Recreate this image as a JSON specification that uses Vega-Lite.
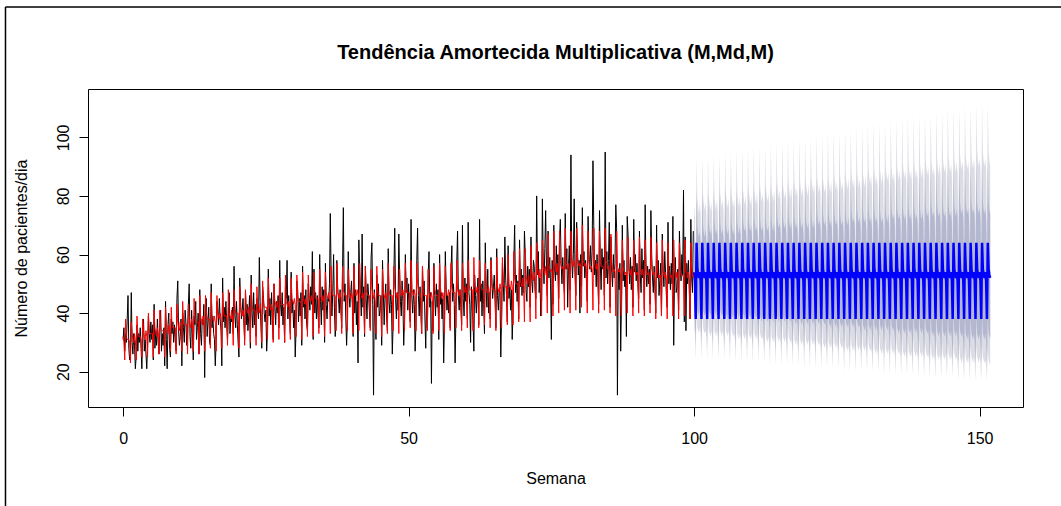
{
"$schema":"https://vega.github.io/schema/vega-lite/v6.json",
"width":935,"height":318,
"autosize":{"type":"none"},
"padding":{"left":88,"top":89,"right":38,"bottom":99},
"background":"white",
"title":{"text":"Tendência Amortecida Multiplicativa (M,Md,M)","anchor":"middle","frame":"group","font":"Liberation Sans","fontSize":20,"fontWeight":"bold","color":"black","baseline":"alphabetic","offset":-72.5},
"config":{"view":{"stroke":"black","strokeWidth":1}},
"datasets":{
"obs":[
{"d":0,"y":31,"f":32},{"d":1,"y":35,"f":30},{"d":2,"y":27,"f":24},{"d":3,"y":33,"f":38},{"d":4,"y":30,"f":32},{"d":5,"y":38,"f":31},{"d":6,"y":46,"f":31},
{"d":7,"y":28,"f":31},{"d":8,"y":24,"f":30},{"d":9,"y":25,"f":23},{"d":10,"y":47,"f":37},{"d":11,"y":30,"f":33},{"d":12,"y":26,"f":31},{"d":13,"y":33,"f":30},
{"d":14,"y":29,"f":33},{"d":15,"y":21,"f":31},{"d":16,"y":25,"f":24},{"d":17,"y":36,"f":39},{"d":18,"y":27,"f":33},{"d":19,"y":33,"f":32},{"d":20,"y":30,"f":32},
{"d":21,"y":35,"f":32},{"d":22,"y":28,"f":31},{"d":23,"y":21,"f":25},{"d":24,"y":34,"f":38},{"d":25,"y":38,"f":34},{"d":26,"y":27,"f":32},{"d":27,"y":31,"f":31},
{"d":28,"y":26,"f":34},{"d":29,"y":21,"f":32},{"d":30,"y":29,"f":25},{"d":31,"y":39,"f":40},{"d":32,"y":33,"f":34},{"d":33,"y":30,"f":33},{"d":34,"y":37,"f":33},
{"d":35,"y":31,"f":33},{"d":36,"y":36,"f":33},{"d":37,"y":24,"f":25},{"d":38,"y":43,"f":41},{"d":39,"y":28,"f":35},{"d":40,"y":34,"f":33},{"d":41,"y":29,"f":32},
{"d":42,"y":38,"f":35},{"d":43,"y":30,"f":33},{"d":44,"y":26,"f":26},{"d":45,"y":35,"f":41},{"d":46,"y":41,"f":35},{"d":47,"y":27,"f":34},{"d":48,"y":33,"f":34},
{"d":49,"y":29,"f":34},{"d":50,"y":35,"f":34},{"d":51,"y":22,"f":25},{"d":52,"y":44,"f":42},{"d":53,"y":31,"f":36},{"d":54,"y":21,"f":34},{"d":55,"y":36,"f":33},
{"d":56,"y":40,"f":36},{"d":57,"y":28,"f":34},{"d":58,"y":25,"f":27},{"d":59,"y":38,"f":42},{"d":60,"y":33,"f":36},{"d":61,"y":37,"f":35},{"d":62,"y":30,"f":35},
{"d":63,"y":36,"f":35},{"d":64,"y":31,"f":35},{"d":65,"y":27,"f":26},{"d":66,"y":45,"f":43},{"d":67,"y":51,"f":37},{"d":68,"y":34,"f":35},{"d":69,"y":29,"f":34},
{"d":70,"y":32,"f":37},{"d":71,"y":38,"f":35},{"d":72,"y":22,"f":27},{"d":73,"y":40,"f":44},{"d":74,"y":35,"f":37},{"d":75,"y":30,"f":36},{"d":76,"y":41,"f":36},
{"d":77,"y":37,"f":36},{"d":78,"y":29,"f":36},{"d":79,"y":33,"f":26},{"d":80,"y":43,"f":43},{"d":81,"y":50,"f":38},{"d":82,"y":32,"f":36},{"d":83,"y":28,"f":35},
{"d":84,"y":41,"f":38},{"d":85,"y":33,"f":36},{"d":86,"y":24,"f":27},{"d":87,"y":39,"f":45},{"d":88,"y":36,"f":38},{"d":89,"y":44,"f":37},{"d":90,"y":31,"f":37},
{"d":91,"y":35,"f":37},{"d":92,"y":40,"f":37},{"d":93,"y":26,"f":26},{"d":94,"y":48,"f":46},{"d":95,"y":33,"f":39},{"d":96,"y":29,"f":37},{"d":97,"y":38,"f":36},
{"d":98,"y":36,"f":39},{"d":99,"y":43,"f":37},{"d":100,"y":18,"f":27},{"d":101,"y":41,"f":46},{"d":102,"y":45,"f":40},{"d":103,"y":32,"f":38},{"d":104,"y":37,"f":38},
{"d":105,"y":42,"f":38},{"d":106,"y":30,"f":38},{"d":107,"y":29,"f":28},{"d":108,"y":50,"f":47},{"d":109,"y":35,"f":39},{"d":110,"y":39,"f":38},{"d":111,"y":33,"f":37},
{"d":112,"y":31,"f":39},{"d":113,"y":22,"f":37},{"d":114,"y":30,"f":27},{"d":115,"y":44,"f":46},{"d":116,"y":41,"f":40},{"d":117,"y":36,"f":39},{"d":118,"y":45,"f":38},
{"d":119,"y":38,"f":40},{"d":120,"y":34,"f":38},{"d":121,"y":22,"f":28},{"d":122,"y":52,"f":47},{"d":123,"y":37,"f":41},{"d":124,"y":42,"f":39},{"d":125,"y":35,"f":39},
{"d":126,"y":44,"f":39},{"d":127,"y":36,"f":39},{"d":128,"y":31,"f":29},{"d":129,"y":40,"f":48},{"d":130,"y":47,"f":40},{"d":131,"y":33,"f":39},{"d":132,"y":38,"f":38},
{"d":133,"y":37,"f":41},{"d":134,"y":42,"f":39},{"d":135,"y":33,"f":29},{"d":136,"y":56,"f":48},{"d":137,"y":39,"f":42},{"d":138,"y":35,"f":40},{"d":139,"y":44,"f":40},
{"d":140,"y":36,"f":40},{"d":141,"y":30,"f":40},{"d":142,"y":25,"f":28},{"d":143,"y":52,"f":49},{"d":144,"y":44,"f":41},{"d":145,"y":38,"f":40},{"d":146,"y":41,"f":39},
{"d":147,"y":45,"f":41},{"d":148,"y":37,"f":39},{"d":149,"y":31,"f":29},{"d":150,"y":47,"f":48},{"d":151,"y":36,"f":42},{"d":152,"y":43,"f":41},{"d":153,"y":34,"f":40},
{"d":154,"y":39,"f":42},{"d":155,"y":46,"f":40},{"d":156,"y":28,"f":30},{"d":157,"y":53,"f":50},{"d":158,"y":40,"f":43},{"d":159,"y":35,"f":41},{"d":160,"y":47,"f":41},
{"d":161,"y":36,"f":41},{"d":162,"y":43,"f":41},{"d":163,"y":32,"f":29},{"d":164,"y":45,"f":49},{"d":165,"y":41,"f":42},{"d":166,"y":38,"f":41},{"d":167,"y":59,"f":40},
{"d":168,"y":44,"f":43},{"d":169,"y":35,"f":41},{"d":170,"y":28,"f":30},{"d":171,"y":49,"f":51},{"d":172,"y":46,"f":44},{"d":173,"y":40,"f":42},{"d":174,"y":37,"f":42},
{"d":175,"y":41,"f":42},{"d":176,"y":27,"f":42},{"d":177,"y":34,"f":31},{"d":178,"y":55,"f":52},{"d":179,"y":39,"f":43},{"d":180,"y":45,"f":42},{"d":181,"y":36,"f":41},
{"d":182,"y":47,"f":43},{"d":183,"y":38,"f":41},{"d":184,"y":31,"f":30},{"d":185,"y":50,"f":50},{"d":186,"y":42,"f":44},{"d":187,"y":36,"f":43},{"d":188,"y":44,"f":42},
{"d":189,"y":40,"f":44},{"d":190,"y":46,"f":42},{"d":191,"y":35,"f":31},{"d":192,"y":58,"f":52},{"d":193,"y":43,"f":45},{"d":194,"y":39,"f":43},{"d":195,"y":47,"f":43},
{"d":196,"y":36,"f":43},{"d":197,"y":42,"f":43},{"d":198,"y":30,"f":30},{"d":199,"y":49,"f":53},{"d":200,"y":45,"f":44},{"d":201,"y":58,"f":43},{"d":202,"y":38,"f":42},
{"d":203,"y":46,"f":44},{"d":204,"y":39,"f":42},{"d":205,"y":33,"f":31},{"d":206,"y":54,"f":52},{"d":207,"y":40,"f":45},{"d":208,"y":44,"f":44},{"d":209,"y":35,"f":43},
{"d":210,"y":41,"f":45},{"d":211,"y":25,"f":43},{"d":212,"y":34,"f":32},{"d":213,"y":51,"f":53},{"d":214,"y":48,"f":46},{"d":215,"y":37,"f":44},{"d":216,"y":45,"f":44},
{"d":217,"y":39,"f":44},{"d":218,"y":47,"f":44},{"d":219,"y":29,"f":31},{"d":220,"y":56,"f":54},{"d":221,"y":42,"f":45},{"d":222,"y":46,"f":44},{"d":223,"y":38,"f":43},
{"d":224,"y":48,"f":45},{"d":225,"y":36,"f":43},{"d":226,"y":34,"f":32},{"d":227,"y":50,"f":53},{"d":228,"y":45,"f":46},{"d":229,"y":41,"f":45},{"d":230,"y":49,"f":44},
{"d":231,"y":43,"f":46},{"d":232,"y":61,"f":44},{"d":233,"y":31,"f":32},{"d":234,"y":55,"f":54},{"d":235,"y":40,"f":47},{"d":236,"y":47,"f":45},{"d":237,"y":38,"f":45},
{"d":238,"y":46,"f":45},{"d":239,"y":39,"f":45},{"d":240,"y":35,"f":33},{"d":241,"y":60,"f":55},{"d":242,"y":44,"f":46},{"d":243,"y":36,"f":45},{"d":244,"y":49,"f":44},
{"d":245,"y":41,"f":46},{"d":246,"y":48,"f":44},{"d":247,"y":30,"f":32},{"d":248,"y":57,"f":54},{"d":249,"y":43,"f":47},{"d":250,"y":38,"f":46},{"d":251,"y":45,"f":45},
{"d":252,"y":44,"f":47},{"d":253,"y":50,"f":45},{"d":254,"y":74,"f":33},{"d":255,"y":53,"f":56},{"d":256,"y":39,"f":48},{"d":257,"y":47,"f":46},{"d":258,"y":60,"f":46},
{"d":259,"y":42,"f":46},{"d":260,"y":32,"f":46},{"d":261,"y":36,"f":34},{"d":262,"y":58,"f":57},{"d":263,"y":49,"f":47},{"d":264,"y":45,"f":46},{"d":265,"y":40,"f":45},
{"d":266,"y":48,"f":47},{"d":267,"y":41,"f":45},{"d":268,"y":35,"f":33},{"d":269,"y":55,"f":56},{"d":270,"y":76,"f":48},{"d":271,"y":44,"f":47},{"d":272,"y":50,"f":46},
{"d":273,"y":38,"f":46},{"d":274,"y":29,"f":46},{"d":275,"y":39,"f":34},{"d":276,"y":61,"f":55},{"d":277,"y":46,"f":49},{"d":278,"y":42,"f":46},{"d":279,"y":47,"f":45},
{"d":280,"y":51,"f":47},{"d":281,"y":43,"f":45},{"d":282,"y":32,"f":33},{"d":283,"y":57,"f":56},{"d":284,"y":40,"f":48},{"d":285,"y":48,"f":46},{"d":286,"y":36,"f":46},
{"d":287,"y":44,"f":48},{"d":288,"y":23,"f":46},{"d":289,"y":65,"f":34},{"d":290,"y":54,"f":57},{"d":291,"y":47,"f":47},{"d":292,"y":39,"f":46},{"d":293,"y":67,"f":45},
{"d":294,"y":42,"f":47},{"d":295,"y":49,"f":45},{"d":296,"y":32,"f":33},{"d":297,"y":56,"f":56},{"d":298,"y":45,"f":48},{"d":299,"y":38,"f":47},{"d":300,"y":50,"f":46},
{"d":301,"y":46,"f":46},{"d":302,"y":40,"f":46},{"d":303,"y":35,"f":34},{"d":304,"y":59,"f":55},{"d":305,"y":64,"f":49},{"d":306,"y":43,"f":46},{"d":307,"y":12,"f":45},
{"d":308,"y":48,"f":47},{"d":309,"y":37,"f":44},{"d":310,"y":31,"f":33},{"d":311,"y":53,"f":56},{"d":312,"y":42,"f":48},{"d":313,"y":50,"f":46},{"d":314,"y":39,"f":46},
{"d":315,"y":41,"f":46},{"d":316,"y":46,"f":45},{"d":317,"y":29,"f":32},{"d":318,"y":58,"f":55},{"d":319,"y":47,"f":47},{"d":320,"y":36,"f":46},{"d":321,"y":45,"f":45},
{"d":322,"y":50,"f":47},{"d":323,"y":39,"f":45},{"d":324,"y":34,"f":33},{"d":325,"y":62,"f":57},{"d":326,"y":44,"f":48},{"d":327,"y":40,"f":46},{"d":328,"y":48,"f":46},
{"d":329,"y":43,"f":46},{"d":330,"y":26,"f":46},{"d":331,"y":36,"f":34},{"d":332,"y":55,"f":56},{"d":333,"y":69,"f":49},{"d":334,"y":45,"f":47},{"d":335,"y":38,"f":45},
{"d":336,"y":47,"f":47},{"d":337,"y":41,"f":45},{"d":338,"y":67,"f":33},{"d":339,"y":52,"f":55},{"d":340,"y":44,"f":48},{"d":341,"y":39,"f":46},{"d":342,"y":51,"f":46},
{"d":343,"y":44,"f":48},{"d":344,"y":29,"f":46},{"d":345,"y":38,"f":34},{"d":346,"y":60,"f":57},{"d":347,"y":47,"f":49},{"d":348,"y":52,"f":47},{"d":349,"y":41,"f":47},
{"d":350,"y":50,"f":47},{"d":351,"y":42,"f":47},{"d":352,"y":37,"f":35},{"d":353,"y":72,"f":58},{"d":354,"y":45,"f":48},{"d":355,"y":40,"f":47},{"d":356,"y":48,"f":46},
{"d":357,"y":43,"f":48},{"d":358,"y":27,"f":46},{"d":359,"y":36,"f":34},{"d":360,"y":58,"f":57},{"d":361,"y":69,"f":50},{"d":362,"y":46,"f":48},{"d":363,"y":39,"f":47},
{"d":364,"y":49,"f":47},{"d":365,"y":40,"f":45},{"d":366,"y":33,"f":33},{"d":367,"y":56,"f":56},{"d":368,"y":44,"f":48},{"d":369,"y":51,"f":46},{"d":370,"y":38,"f":46},
{"d":371,"y":28,"f":46},{"d":372,"y":45,"f":46},{"d":373,"y":35,"f":34},{"d":374,"y":53,"f":55},{"d":375,"y":61,"f":47},{"d":376,"y":42,"f":46},{"d":377,"y":47,"f":45},
{"d":378,"y":16,"f":47},{"d":379,"y":44,"f":45},{"d":380,"y":34,"f":33},{"d":381,"y":57,"f":56},{"d":382,"y":46,"f":48},{"d":383,"y":39,"f":47},{"d":384,"y":50,"f":46},
{"d":385,"y":42,"f":46},{"d":386,"y":48,"f":46},{"d":387,"y":31,"f":34},{"d":388,"y":60,"f":57},{"d":389,"y":43,"f":49},{"d":390,"y":47,"f":46},{"d":391,"y":38,"f":45},
{"d":392,"y":45,"f":47},{"d":393,"y":23,"f":45},{"d":394,"y":37,"f":33},{"d":395,"y":61,"f":56},{"d":396,"y":49,"f":48},{"d":397,"y":41,"f":46},{"d":398,"y":46,"f":46},
{"d":399,"y":40,"f":48},{"d":400,"y":47,"f":46},{"d":401,"y":35,"f":34},{"d":402,"y":55,"f":57},{"d":403,"y":63,"f":49},{"d":404,"y":44,"f":47},{"d":405,"y":50,"f":47},
{"d":406,"y":43,"f":47},{"d":407,"y":23,"f":47},{"d":408,"y":39,"f":35},{"d":409,"y":57,"f":58},{"d":410,"y":68,"f":48},{"d":411,"y":46,"f":47},{"d":412,"y":41,"f":46},
{"d":413,"y":48,"f":48},{"d":414,"y":42,"f":46},{"d":415,"y":36,"f":34},{"d":416,"y":70,"f":57},{"d":417,"y":45,"f":50},{"d":418,"y":39,"f":48},{"d":419,"y":52,"f":47},
{"d":420,"y":44,"f":49},{"d":421,"y":50,"f":47},{"d":422,"y":38,"f":35},{"d":423,"y":71,"f":58},{"d":424,"y":47,"f":50},{"d":425,"y":43,"f":48},{"d":426,"y":30,"f":48},
{"d":427,"y":49,"f":48},{"d":428,"y":41,"f":48},{"d":429,"y":37,"f":34},{"d":430,"y":27,"f":59},{"d":431,"y":53,"f":49},{"d":432,"y":46,"f":48},{"d":433,"y":40,"f":47},
{"d":434,"y":46,"f":49},{"d":435,"y":52,"f":47},{"d":436,"y":36,"f":35},{"d":437,"y":72,"f":58},{"d":438,"y":44,"f":50},{"d":439,"y":50,"f":49},{"d":440,"y":39,"f":48},
{"d":441,"y":51,"f":48},{"d":442,"y":43,"f":48},{"d":443,"y":33,"f":36},{"d":444,"y":64,"f":57},{"d":445,"y":48,"f":51},{"d":446,"y":42,"f":48},{"d":447,"y":55,"f":47},
{"d":448,"y":40,"f":49},{"d":449,"y":47,"f":47},{"d":450,"y":38,"f":35},{"d":451,"y":59,"f":58},{"d":452,"y":52,"f":50},{"d":453,"y":45,"f":48},{"d":454,"y":49,"f":48},
{"d":455,"y":53,"f":48},{"d":456,"y":44,"f":48},{"d":457,"y":35,"f":34},{"d":458,"y":62,"f":59},{"d":459,"y":46,"f":49},{"d":460,"y":41,"f":48},{"d":461,"y":48,"f":47},
{"d":462,"y":47,"f":50},{"d":463,"y":25,"f":48},{"d":464,"y":39,"f":35},{"d":465,"y":57,"f":59},{"d":466,"y":50,"f":51},{"d":467,"y":44,"f":49},{"d":468,"y":66,"f":49},
{"d":469,"y":52,"f":49},{"d":470,"y":46,"f":49},{"d":471,"y":37,"f":36},{"d":472,"y":63,"f":60},{"d":473,"y":45,"f":50},{"d":474,"y":49,"f":49},{"d":475,"y":41,"f":48},
{"d":476,"y":48,"f":51},{"d":477,"y":31,"f":49},{"d":478,"y":40,"f":36},{"d":479,"y":58,"f":61},{"d":480,"y":70,"f":52},{"d":481,"y":47,"f":50},{"d":482,"y":53,"f":50},
{"d":483,"y":44,"f":50},{"d":484,"y":51,"f":50},{"d":485,"y":38,"f":37},{"d":486,"y":65,"f":62},{"d":487,"y":49,"f":51},{"d":488,"y":55,"f":50},{"d":489,"y":46,"f":49},
{"d":490,"y":53,"f":52},{"d":491,"y":47,"f":49},{"d":492,"y":68,"f":37},{"d":493,"y":60,"f":62},{"d":494,"y":48,"f":53},{"d":495,"y":44,"f":51},{"d":496,"y":56,"f":50},
{"d":497,"y":49,"f":53},{"d":498,"y":55,"f":50},{"d":499,"y":42,"f":37},{"d":500,"y":66,"f":63},{"d":501,"y":51,"f":54},{"d":502,"y":47,"f":52},{"d":503,"y":58,"f":51},
{"d":504,"y":56,"f":54},{"d":505,"y":48,"f":51},{"d":506,"y":45,"f":38},{"d":507,"y":80,"f":64},{"d":508,"y":53,"f":55},{"d":509,"y":61,"f":53},{"d":510,"y":47,"f":52},
{"d":511,"y":52,"f":55},{"d":512,"y":39,"f":52},{"d":513,"y":44,"f":39},{"d":514,"y":79,"f":65},{"d":515,"y":58,"f":56},{"d":516,"y":50,"f":54},{"d":517,"y":62,"f":53},
{"d":518,"y":75,"f":56},{"d":519,"y":56,"f":53},{"d":520,"y":46,"f":40},{"d":521,"y":68,"f":67},{"d":522,"y":52,"f":57},{"d":523,"y":59,"f":55},{"d":524,"y":50,"f":54},
{"d":525,"y":31,"f":55},{"d":526,"y":58,"f":54},{"d":527,"y":43,"f":39},{"d":528,"y":70,"f":68},{"d":529,"y":55,"f":56},{"d":530,"y":51,"f":55},{"d":531,"y":63,"f":54},
{"d":532,"y":53,"f":57},{"d":533,"y":60,"f":54},{"d":534,"y":45,"f":40},{"d":535,"y":65,"f":68},{"d":536,"y":72,"f":58},{"d":537,"y":57,"f":56},{"d":538,"y":50,"f":55},
{"d":539,"y":59,"f":56},{"d":540,"y":51,"f":55},{"d":541,"y":47,"f":41},{"d":542,"y":74,"f":69},{"d":543,"y":55,"f":57},{"d":544,"y":62,"f":56},{"d":545,"y":42,"f":55},
{"d":546,"y":56,"f":57},{"d":547,"y":63,"f":54},{"d":548,"y":48,"f":40},{"d":549,"y":94,"f":68},{"d":550,"y":58,"f":59},{"d":551,"y":52,"f":57},{"d":552,"y":60,"f":56},
{"d":553,"y":79,"f":58},{"d":554,"y":54,"f":55},{"d":555,"y":46,"f":41},{"d":556,"y":71,"f":69},{"d":557,"y":62,"f":59},{"d":558,"y":53,"f":57},{"d":559,"y":58,"f":56},
{"d":560,"y":40,"f":57},{"d":561,"y":60,"f":56},{"d":562,"y":49,"f":42},{"d":563,"y":76,"f":70},{"d":564,"y":56,"f":58},{"d":565,"y":61,"f":57},{"d":566,"y":52,"f":56},
{"d":567,"y":58,"f":57},{"d":568,"y":51,"f":54},{"d":569,"y":44,"f":40},{"d":570,"y":73,"f":68},{"d":571,"y":60,"f":58},{"d":572,"y":55,"f":56},{"d":573,"y":63,"f":55},
{"d":574,"y":54,"f":56},{"d":575,"y":61,"f":55},{"d":576,"y":92,"f":41},{"d":577,"y":70,"f":69},{"d":578,"y":53,"f":57},{"d":579,"y":58,"f":56},{"d":580,"y":49,"f":55},
{"d":581,"y":60,"f":57},{"d":582,"y":52,"f":54},{"d":583,"y":43,"f":40},{"d":584,"y":75,"f":68},{"d":585,"y":57,"f":59},{"d":586,"y":48,"f":56},{"d":587,"y":62,"f":56},
{"d":588,"y":55,"f":56},{"d":589,"y":59,"f":55},{"d":590,"y":46,"f":41},{"d":591,"y":95,"f":69},{"d":592,"y":52,"f":58},{"d":593,"y":61,"f":57},{"d":594,"y":50,"f":55},
{"d":595,"y":58,"f":56},{"d":596,"y":71,"f":53},{"d":597,"y":42,"f":40},{"d":598,"y":66,"f":67},{"d":599,"y":54,"f":57},{"d":600,"y":49,"f":55},{"d":601,"y":60,"f":54},
{"d":602,"y":52,"f":55},{"d":603,"y":57,"f":54},{"d":604,"y":77,"f":39},{"d":605,"y":69,"f":68},{"d":606,"y":12,"f":56},{"d":607,"y":55,"f":55},{"d":608,"y":48,"f":54},
{"d":609,"y":57,"f":55},{"d":610,"y":27,"f":52},{"d":611,"y":44,"f":39},{"d":612,"y":70,"f":65},{"d":613,"y":51,"f":56},{"d":614,"y":58,"f":54},{"d":615,"y":49,"f":53},
{"d":616,"y":53,"f":54},{"d":617,"y":32,"f":53},{"d":618,"y":73,"f":40},{"d":619,"y":67,"f":66},{"d":620,"y":56,"f":55},{"d":621,"y":50,"f":54},{"d":622,"y":59,"f":53},
{"d":623,"y":48,"f":55},{"d":624,"y":56,"f":52},{"d":625,"y":42,"f":39},{"d":626,"y":72,"f":65},{"d":627,"y":54,"f":56},{"d":628,"y":60,"f":54},{"d":629,"y":51,"f":53},
{"d":630,"y":57,"f":54},{"d":631,"y":50,"f":53},{"d":632,"y":45,"f":40},{"d":633,"y":68,"f":66},{"d":634,"y":53,"f":55},{"d":635,"y":47,"f":55},{"d":636,"y":62,"f":53},
{"d":637,"y":52,"f":55},{"d":638,"y":58,"f":52},{"d":639,"y":41,"f":39},{"d":640,"y":77,"f":65},{"d":641,"y":55,"f":57},{"d":642,"y":49,"f":54},{"d":643,"y":56,"f":53},
{"d":644,"y":50,"f":54},{"d":645,"y":55,"f":53},{"d":646,"y":43,"f":40},{"d":647,"y":75,"f":66},{"d":648,"y":60,"f":56},{"d":649,"y":52,"f":54},{"d":650,"y":47,"f":53},
{"d":651,"y":56,"f":54},{"d":652,"y":48,"f":51},{"d":653,"y":40,"f":38},{"d":654,"y":70,"f":64},{"d":655,"y":52,"f":55},{"d":656,"y":58,"f":53},{"d":657,"y":46,"f":52},
{"d":658,"y":51,"f":53},{"d":659,"y":57,"f":52},{"d":660,"y":39,"f":39},{"d":661,"y":67,"f":65},{"d":662,"y":55,"f":54},{"d":663,"y":49,"f":53},{"d":664,"y":61,"f":52},
{"d":665,"y":54,"f":54},{"d":666,"y":46,"f":51},{"d":667,"y":42,"f":38},{"d":668,"y":71,"f":64},{"d":669,"y":50,"f":55},{"d":670,"y":56,"f":54},{"d":671,"y":48,"f":52},
{"d":672,"y":57,"f":53},{"d":673,"y":50,"f":52},{"d":674,"y":73,"f":39},{"d":675,"y":29,"f":65},{"d":676,"y":53,"f":56},{"d":677,"y":59,"f":53},{"d":678,"y":47,"f":52},
{"d":679,"y":49,"f":54},{"d":680,"y":55,"f":51},{"d":681,"y":41,"f":38},{"d":682,"y":68,"f":64},{"d":683,"y":56,"f":55},{"d":684,"y":51,"f":53},{"d":685,"y":60,"f":53},
{"d":686,"y":53,"f":53},{"d":687,"y":82,"f":52},{"d":688,"y":37,"f":39},{"d":689,"y":66,"f":65},{"d":690,"y":34,"f":54},{"d":691,"y":57,"f":54},{"d":692,"y":50,"f":52},
{"d":693,"y":58,"f":54},{"d":694,"y":49,"f":51},{"d":695,"y":38,"f":38},{"d":696,"y":72,"f":64},{"d":697,"y":52,"f":55},{"d":698,"y":47,"f":53},{"d":699,"y":68,"f":52}
],
"fc":[
{"d":700,"p":54,"l8":41,"h8":68,"l9":35,"h9":77},{"d":701,"p":51,"l8":38,"h8":64,"l9":33,"h9":73},{"d":702,"p":38,"l8":29,"h8":48,"l9":24,"h9":55},{"d":703,"p":64,"l8":49,"h8":82,"l9":41,"h9":93},{"d":704,"p":55,"l8":41,"h8":70,"l9":35,"h9":79},{"d":705,"p":53,"l8":40,"h8":67,"l9":34,"h9":76},{"d":706,"p":52,"l8":39,"h8":66,"l9":33,"h9":74},
{"d":707,"p":54,"l8":41,"h8":68,"l9":35,"h9":78},{"d":708,"p":51,"l8":38,"h8":64,"l9":33,"h9":74},{"d":709,"p":38,"l8":29,"h8":48,"l9":24,"h9":55},{"d":710,"p":64,"l8":49,"h8":82,"l9":41,"h9":93},{"d":711,"p":55,"l8":41,"h8":70,"l9":35,"h9":80},{"d":712,"p":53,"l8":40,"h8":67,"l9":34,"h9":77},{"d":713,"p":52,"l8":39,"h8":66,"l9":33,"h9":75},
{"d":714,"p":54,"l8":41,"h8":69,"l9":34,"h9":78},{"d":715,"p":51,"l8":38,"h8":65,"l9":32,"h9":74},{"d":716,"p":38,"l8":29,"h8":49,"l9":24,"h9":55},{"d":717,"p":64,"l8":49,"h8":82,"l9":41,"h9":94},{"d":718,"p":55,"l8":41,"h8":71,"l9":34,"h9":80},{"d":719,"p":53,"l8":40,"h8":68,"l9":33,"h9":77},{"d":720,"p":52,"l8":39,"h8":67,"l9":32,"h9":75},
{"d":721,"p":54,"l8":41,"h8":69,"l9":34,"h9":78},{"d":722,"p":51,"l8":38,"h8":65,"l9":32,"h9":74},{"d":723,"p":38,"l8":29,"h8":49,"l9":24,"h9":55},{"d":724,"p":64,"l8":48,"h8":82,"l9":41,"h9":94},{"d":725,"p":55,"l8":41,"h8":71,"l9":34,"h9":80},{"d":726,"p":53,"l8":40,"h8":68,"l9":33,"h9":77},{"d":727,"p":52,"l8":39,"h8":67,"l9":32,"h9":75},
{"d":728,"p":54,"l8":41,"h8":69,"l9":34,"h9":79},{"d":729,"p":51,"l8":38,"h8":65,"l9":32,"h9":75},{"d":730,"p":38,"l8":28,"h8":49,"l9":24,"h9":56},{"d":731,"p":64,"l8":48,"h8":83,"l9":40,"h9":94},{"d":732,"p":55,"l8":41,"h8":71,"l9":34,"h9":81},{"d":733,"p":53,"l8":40,"h8":68,"l9":33,"h9":78},{"d":734,"p":52,"l8":39,"h8":67,"l9":32,"h9":76},
{"d":735,"p":54,"l8":40,"h8":69,"l9":34,"h9":79},{"d":736,"p":51,"l8":37,"h8":65,"l9":32,"h9":75},{"d":737,"p":38,"l8":28,"h8":49,"l9":24,"h9":56},{"d":738,"p":64,"l8":48,"h8":83,"l9":40,"h9":95},{"d":739,"p":55,"l8":40,"h8":71,"l9":34,"h9":81},{"d":740,"p":53,"l8":39,"h8":68,"l9":33,"h9":78},{"d":741,"p":52,"l8":38,"h8":67,"l9":32,"h9":76},
{"d":742,"p":54,"l8":40,"h8":69,"l9":34,"h9":79},{"d":743,"p":51,"l8":37,"h8":65,"l9":32,"h9":75},{"d":744,"p":38,"l8":28,"h8":49,"l9":23,"h9":56},{"d":745,"p":64,"l8":48,"h8":83,"l9":40,"h9":95},{"d":746,"p":55,"l8":40,"h8":71,"l9":34,"h9":81},{"d":747,"p":53,"l8":39,"h8":68,"l9":33,"h9":78},{"d":748,"p":52,"l8":38,"h8":67,"l9":32,"h9":76},
{"d":749,"p":54,"l8":40,"h8":69,"l9":33,"h9":79},{"d":750,"p":51,"l8":37,"h8":65,"l9":31,"h9":75},{"d":751,"p":38,"l8":28,"h8":49,"l9":23,"h9":56},{"d":752,"p":64,"l8":48,"h8":83,"l9":40,"h9":96},{"d":753,"p":55,"l8":40,"h8":71,"l9":33,"h9":81},{"d":754,"p":53,"l8":39,"h8":68,"l9":32,"h9":78},{"d":755,"p":52,"l8":38,"h8":67,"l9":31,"h9":76},
{"d":756,"p":54,"l8":40,"h8":70,"l9":33,"h9":80},{"d":757,"p":51,"l8":37,"h8":66,"l9":31,"h9":76},{"d":758,"p":38,"l8":28,"h8":49,"l9":23,"h9":56},{"d":759,"p":64,"l8":47,"h8":83,"l9":39,"h9":96},{"d":760,"p":55,"l8":40,"h8":72,"l9":33,"h9":82},{"d":761,"p":53,"l8":39,"h8":69,"l9":32,"h9":79},{"d":762,"p":52,"l8":38,"h8":68,"l9":31,"h9":77},
{"d":763,"p":54,"l8":40,"h8":70,"l9":33,"h9":80},{"d":764,"p":51,"l8":37,"h8":66,"l9":31,"h9":76},{"d":765,"p":38,"l8":28,"h8":49,"l9":23,"h9":57},{"d":766,"p":64,"l8":47,"h8":84,"l9":39,"h9":96},{"d":767,"p":55,"l8":40,"h8":72,"l9":33,"h9":82},{"d":768,"p":53,"l8":39,"h8":69,"l9":32,"h9":79},{"d":769,"p":52,"l8":38,"h8":68,"l9":31,"h9":77},
{"d":770,"p":54,"l8":40,"h8":70,"l9":33,"h9":80},{"d":771,"p":51,"l8":37,"h8":66,"l9":31,"h9":76},{"d":772,"p":38,"l8":28,"h8":49,"l9":23,"h9":57},{"d":773,"p":64,"l8":47,"h8":84,"l9":39,"h9":97},{"d":774,"p":55,"l8":40,"h8":72,"l9":33,"h9":82},{"d":775,"p":53,"l8":39,"h8":69,"l9":32,"h9":79},{"d":776,"p":52,"l8":38,"h8":68,"l9":31,"h9":77},
{"d":777,"p":54,"l8":39,"h8":70,"l9":33,"h9":81},{"d":778,"p":51,"l8":36,"h8":66,"l9":31,"h9":77},{"d":779,"p":38,"l8":28,"h8":50,"l9":23,"h9":57},{"d":780,"p":64,"l8":47,"h8":84,"l9":39,"h9":97},{"d":781,"p":55,"l8":39,"h8":72,"l9":33,"h9":83},{"d":782,"p":53,"l8":38,"h8":69,"l9":32,"h9":80},{"d":783,"p":52,"l8":37,"h8":68,"l9":31,"h9":78},
{"d":784,"p":54,"l8":39,"h8":70,"l9":32,"h9":81},{"d":785,"p":51,"l8":36,"h8":66,"l9":30,"h9":77},{"d":786,"p":38,"l8":27,"h8":50,"l9":23,"h9":57},{"d":787,"p":64,"l8":47,"h8":84,"l9":38,"h9":97},{"d":788,"p":55,"l8":39,"h8":72,"l9":32,"h9":83},{"d":789,"p":53,"l8":38,"h8":69,"l9":31,"h9":80},{"d":790,"p":52,"l8":37,"h8":68,"l9":30,"h9":78},
{"d":791,"p":54,"l8":39,"h8":70,"l9":32,"h9":81},{"d":792,"p":51,"l8":36,"h8":66,"l9":30,"h9":77},{"d":793,"p":38,"l8":27,"h8":50,"l9":22,"h9":58},{"d":794,"p":64,"l8":46,"h8":84,"l9":38,"h9":98},{"d":795,"p":55,"l8":39,"h8":72,"l9":32,"h9":83},{"d":796,"p":53,"l8":38,"h8":69,"l9":31,"h9":80},{"d":797,"p":52,"l8":37,"h8":68,"l9":30,"h9":78},
{"d":798,"p":54,"l8":39,"h8":71,"l9":32,"h9":82},{"d":799,"p":51,"l8":36,"h8":67,"l9":30,"h9":78},{"d":800,"p":38,"l8":27,"h8":50,"l9":22,"h9":58},{"d":801,"p":64,"l8":46,"h8":85,"l9":38,"h9":98},{"d":802,"p":55,"l8":39,"h8":73,"l9":32,"h9":84},{"d":803,"p":53,"l8":38,"h8":70,"l9":31,"h9":81},{"d":804,"p":52,"l8":37,"h8":69,"l9":30,"h9":79},
{"d":805,"p":54,"l8":39,"h8":71,"l9":32,"h9":82},{"d":806,"p":51,"l8":36,"h8":67,"l9":30,"h9":78},{"d":807,"p":38,"l8":27,"h8":50,"l9":22,"h9":58},{"d":808,"p":64,"l8":46,"h8":85,"l9":38,"h9":99},{"d":809,"p":55,"l8":39,"h8":73,"l9":32,"h9":84},{"d":810,"p":53,"l8":38,"h8":70,"l9":31,"h9":81},{"d":811,"p":52,"l8":37,"h8":69,"l9":30,"h9":79},
{"d":812,"p":54,"l8":39,"h8":71,"l9":32,"h9":82},{"d":813,"p":51,"l8":36,"h8":67,"l9":30,"h9":78},{"d":814,"p":38,"l8":27,"h8":50,"l9":22,"h9":58},{"d":815,"p":64,"l8":46,"h8":85,"l9":37,"h9":99},{"d":816,"p":55,"l8":39,"h8":73,"l9":32,"h9":84},{"d":817,"p":53,"l8":38,"h8":70,"l9":31,"h9":81},{"d":818,"p":52,"l8":37,"h8":69,"l9":30,"h9":79},
{"d":819,"p":54,"l8":38,"h8":71,"l9":31,"h9":83},{"d":820,"p":51,"l8":35,"h8":67,"l9":29,"h9":79},{"d":821,"p":38,"l8":27,"h8":50,"l9":22,"h9":59},{"d":822,"p":64,"l8":46,"h8":85,"l9":37,"h9":99},{"d":823,"p":55,"l8":38,"h8":73,"l9":31,"h9":85},{"d":824,"p":53,"l8":37,"h8":70,"l9":30,"h9":82},{"d":825,"p":52,"l8":36,"h8":69,"l9":29,"h9":80},
{"d":826,"p":54,"l8":38,"h8":71,"l9":31,"h9":83},{"d":827,"p":51,"l8":35,"h8":67,"l9":29,"h9":79},{"d":828,"p":38,"l8":27,"h8":50,"l9":22,"h9":59},{"d":829,"p":64,"l8":45,"h8":85,"l9":37,"h9":100},{"d":830,"p":55,"l8":38,"h8":73,"l9":31,"h9":85},{"d":831,"p":53,"l8":37,"h8":70,"l9":30,"h9":82},{"d":832,"p":52,"l8":36,"h8":69,"l9":29,"h9":80},
{"d":833,"p":54,"l8":38,"h8":71,"l9":31,"h9":83},{"d":834,"p":51,"l8":35,"h8":67,"l9":29,"h9":79},{"d":835,"p":38,"l8":27,"h8":50,"l9":21,"h9":59},{"d":836,"p":64,"l8":45,"h8":86,"l9":36,"h9":100},{"d":837,"p":55,"l8":38,"h8":73,"l9":31,"h9":85},{"d":838,"p":53,"l8":37,"h8":70,"l9":30,"h9":82},{"d":839,"p":52,"l8":36,"h8":69,"l9":29,"h9":80},
{"d":840,"p":54,"l8":38,"h8":71,"l9":31,"h9":84},{"d":841,"p":51,"l8":35,"h8":67,"l9":29,"h9":80},{"d":842,"p":38,"l8":26,"h8":51,"l9":21,"h9":59},{"d":843,"p":64,"l8":45,"h8":86,"l9":36,"h9":100},{"d":844,"p":55,"l8":38,"h8":73,"l9":31,"h9":86},{"d":845,"p":53,"l8":37,"h8":70,"l9":30,"h9":83},{"d":846,"p":52,"l8":36,"h8":69,"l9":29,"h9":81},
{"d":847,"p":54,"l8":38,"h8":72,"l9":31,"h9":84},{"d":848,"p":51,"l8":35,"h8":68,"l9":29,"h9":80},{"d":849,"p":38,"l8":26,"h8":51,"l9":21,"h9":59},{"d":850,"p":64,"l8":45,"h8":86,"l9":36,"h9":101},{"d":851,"p":55,"l8":38,"h8":74,"l9":31,"h9":86},{"d":852,"p":53,"l8":37,"h8":71,"l9":30,"h9":83},{"d":853,"p":52,"l8":36,"h8":70,"l9":29,"h9":81},
{"d":854,"p":54,"l8":38,"h8":72,"l9":30,"h9":84},{"d":855,"p":51,"l8":35,"h8":68,"l9":28,"h9":80},{"d":856,"p":38,"l8":26,"h8":51,"l9":21,"h9":60},{"d":857,"p":64,"l8":45,"h8":86,"l9":36,"h9":101},{"d":858,"p":55,"l8":38,"h8":74,"l9":30,"h9":86},{"d":859,"p":53,"l8":37,"h8":71,"l9":29,"h9":83},{"d":860,"p":52,"l8":36,"h8":70,"l9":28,"h9":81},
{"d":861,"p":54,"l8":37,"h8":72,"l9":30,"h9":84},{"d":862,"p":51,"l8":34,"h8":68,"l9":28,"h9":80},{"d":863,"p":38,"l8":26,"h8":51,"l9":21,"h9":60},{"d":864,"p":64,"l8":44,"h8":86,"l9":35,"h9":102},{"d":865,"p":55,"l8":37,"h8":74,"l9":30,"h9":86},{"d":866,"p":53,"l8":36,"h8":71,"l9":29,"h9":83},{"d":867,"p":52,"l8":35,"h8":70,"l9":28,"h9":81},
{"d":868,"p":54,"l8":37,"h8":72,"l9":30,"h9":85},{"d":869,"p":51,"l8":34,"h8":68,"l9":28,"h9":81},{"d":870,"p":38,"l8":26,"h8":51,"l9":21,"h9":60},{"d":871,"p":64,"l8":44,"h8":86,"l9":35,"h9":102},{"d":872,"p":55,"l8":37,"h8":74,"l9":30,"h9":87},{"d":873,"p":53,"l8":36,"h8":71,"l9":29,"h9":84},{"d":874,"p":52,"l8":35,"h8":70,"l9":28,"h9":82},
{"d":875,"p":54,"l8":37,"h8":72,"l9":30,"h9":85},{"d":876,"p":51,"l8":34,"h8":68,"l9":28,"h9":81},{"d":877,"p":38,"l8":26,"h8":51,"l9":21,"h9":60},{"d":878,"p":64,"l8":44,"h8":87,"l9":35,"h9":102},{"d":879,"p":55,"l8":37,"h8":74,"l9":30,"h9":87},{"d":880,"p":53,"l8":36,"h8":71,"l9":29,"h9":84},{"d":881,"p":52,"l8":35,"h8":70,"l9":28,"h9":82},
{"d":882,"p":54,"l8":37,"h8":72,"l9":29,"h9":85},{"d":883,"p":51,"l8":34,"h8":68,"l9":27,"h9":81},{"d":884,"p":38,"l8":26,"h8":51,"l9":20,"h9":61},{"d":885,"p":64,"l8":44,"h8":87,"l9":35,"h9":103},{"d":886,"p":55,"l8":37,"h8":74,"l9":29,"h9":87},{"d":887,"p":53,"l8":36,"h8":71,"l9":28,"h9":84},{"d":888,"p":52,"l8":35,"h8":70,"l9":27,"h9":82},
{"d":889,"p":54,"l8":37,"h8":73,"l9":29,"h9":86},{"d":890,"p":51,"l8":34,"h8":69,"l9":27,"h9":82},{"d":891,"p":38,"l8":26,"h8":51,"l9":20,"h9":61},{"d":892,"p":64,"l8":44,"h8":87,"l9":34,"h9":103},{"d":893,"p":55,"l8":37,"h8":75,"l9":29,"h9":88},{"d":894,"p":53,"l8":36,"h8":72,"l9":28,"h9":85},{"d":895,"p":52,"l8":35,"h8":71,"l9":27,"h9":83},
{"d":896,"p":54,"l8":37,"h8":73,"l9":29,"h9":86},{"d":897,"p":51,"l8":34,"h8":69,"l9":27,"h9":82},{"d":898,"p":38,"l8":26,"h8":51,"l9":20,"h9":61},{"d":899,"p":64,"l8":43,"h8":87,"l9":34,"h9":103},{"d":900,"p":55,"l8":37,"h8":75,"l9":29,"h9":88},{"d":901,"p":53,"l8":36,"h8":72,"l9":28,"h9":85},{"d":902,"p":52,"l8":35,"h8":71,"l9":27,"h9":83},
{"d":903,"p":54,"l8":36,"h8":73,"l9":29,"h9":86},{"d":904,"p":51,"l8":33,"h8":69,"l9":27,"h9":82},{"d":905,"p":38,"l8":25,"h8":52,"l9":20,"h9":61},{"d":906,"p":64,"l8":43,"h8":87,"l9":34,"h9":104},{"d":907,"p":55,"l8":36,"h8":75,"l9":29,"h9":88},{"d":908,"p":53,"l8":35,"h8":72,"l9":28,"h9":85},{"d":909,"p":52,"l8":34,"h8":71,"l9":27,"h9":83},
{"d":910,"p":54,"l8":36,"h8":73,"l9":29,"h9":87},{"d":911,"p":51,"l8":33,"h8":69,"l9":27,"h9":83},{"d":912,"p":38,"l8":25,"h8":52,"l9":20,"h9":61},{"d":913,"p":64,"l8":43,"h8":88,"l9":34,"h9":104},{"d":914,"p":55,"l8":36,"h8":75,"l9":29,"h9":89},{"d":915,"p":53,"l8":35,"h8":72,"l9":28,"h9":86},{"d":916,"p":52,"l8":34,"h8":71,"l9":27,"h9":84},
{"d":917,"p":54,"l8":36,"h8":73,"l9":28,"h9":87},{"d":918,"p":51,"l8":33,"h8":69,"l9":26,"h9":83},{"d":919,"p":38,"l8":25,"h8":52,"l9":20,"h9":62},{"d":920,"p":64,"l8":43,"h8":88,"l9":33,"h9":105},{"d":921,"p":55,"l8":36,"h8":75,"l9":28,"h9":89},{"d":922,"p":53,"l8":35,"h8":72,"l9":27,"h9":86},{"d":923,"p":52,"l8":34,"h8":71,"l9":26,"h9":84},
{"d":924,"p":54,"l8":36,"h8":73,"l9":28,"h9":87},{"d":925,"p":51,"l8":33,"h8":69,"l9":26,"h9":83},{"d":926,"p":38,"l8":25,"h8":52,"l9":20,"h9":62},{"d":927,"p":64,"l8":43,"h8":88,"l9":33,"h9":105},{"d":928,"p":55,"l8":36,"h8":75,"l9":28,"h9":89},{"d":929,"p":53,"l8":35,"h8":72,"l9":27,"h9":86},{"d":930,"p":52,"l8":34,"h8":71,"l9":26,"h9":84},
{"d":931,"p":54,"l8":36,"h8":73,"l9":28,"h9":88},{"d":932,"p":51,"l8":33,"h8":69,"l9":26,"h9":84},{"d":933,"p":38,"l8":25,"h8":52,"l9":19,"h9":62},{"d":934,"p":64,"l8":42,"h8":88,"l9":33,"h9":105},{"d":935,"p":55,"l8":36,"h8":75,"l9":28,"h9":90},{"d":936,"p":53,"l8":35,"h8":72,"l9":27,"h9":87},{"d":937,"p":52,"l8":34,"h8":71,"l9":26,"h9":85},
{"d":938,"p":54,"l8":36,"h8":74,"l9":28,"h9":88},{"d":939,"p":51,"l8":33,"h8":70,"l9":26,"h9":84},{"d":940,"p":38,"l8":25,"h8":52,"l9":19,"h9":62},{"d":941,"p":64,"l8":42,"h8":88,"l9":33,"h9":106},{"d":942,"p":55,"l8":36,"h8":76,"l9":28,"h9":90},{"d":943,"p":53,"l8":35,"h8":73,"l9":27,"h9":87},{"d":944,"p":52,"l8":34,"h8":72,"l9":26,"h9":85},
{"d":945,"p":54,"l8":35,"h8":74,"l9":28,"h9":88},{"d":946,"p":51,"l8":32,"h8":70,"l9":26,"h9":84},{"d":947,"p":38,"l8":25,"h8":52,"l9":19,"h9":63},{"d":948,"p":64,"l8":42,"h8":89,"l9":32,"h9":106},{"d":949,"p":55,"l8":35,"h8":76,"l9":28,"h9":90},{"d":950,"p":53,"l8":34,"h8":73,"l9":27,"h9":87},{"d":951,"p":52,"l8":33,"h8":72,"l9":26,"h9":85},
{"d":952,"p":54,"l8":35,"h8":74,"l9":27,"h9":89},{"d":953,"p":51,"l8":32,"h8":70,"l9":25,"h9":85},{"d":954,"p":38,"l8":25,"h8":52,"l9":19,"h9":63},{"d":955,"p":64,"l8":42,"h8":89,"l9":32,"h9":107},{"d":956,"p":55,"l8":35,"h8":76,"l9":27,"h9":91},{"d":957,"p":53,"l8":34,"h8":73,"l9":26,"h9":88},{"d":958,"p":52,"l8":33,"h8":72,"l9":25,"h9":86},
{"d":959,"p":54,"l8":35,"h8":74,"l9":27,"h9":89},{"d":960,"p":51,"l8":32,"h8":70,"l9":25,"h9":85},{"d":961,"p":38,"l8":24,"h8":52,"l9":19,"h9":63},{"d":962,"p":64,"l8":42,"h8":89,"l9":32,"h9":107},{"d":963,"p":55,"l8":35,"h8":76,"l9":27,"h9":91},{"d":964,"p":53,"l8":34,"h8":73,"l9":26,"h9":88},{"d":965,"p":52,"l8":33,"h8":72,"l9":25,"h9":86},
{"d":966,"p":54,"l8":35,"h8":74,"l9":27,"h9":89},{"d":967,"p":51,"l8":32,"h8":70,"l9":25,"h9":85},{"d":968,"p":38,"l8":24,"h8":53,"l9":19,"h9":63},{"d":969,"p":64,"l8":41,"h8":89,"l9":32,"h9":107},{"d":970,"p":55,"l8":35,"h8":76,"l9":27,"h9":91},{"d":971,"p":53,"l8":34,"h8":73,"l9":26,"h9":88},{"d":972,"p":52,"l8":33,"h8":72,"l9":25,"h9":86},
{"d":973,"p":54,"l8":35,"h8":74,"l9":27,"h9":89},{"d":974,"p":51,"l8":32,"h8":70,"l9":25,"h9":85},{"d":975,"p":38,"l8":24,"h8":53,"l9":18,"h9":63},{"d":976,"p":64,"l8":41,"h8":89,"l9":31,"h9":108},{"d":977,"p":55,"l8":35,"h8":76,"l9":27,"h9":91},{"d":978,"p":53,"l8":34,"h8":73,"l9":26,"h9":88},{"d":979,"p":52,"l8":33,"h8":72,"l9":25,"h9":86},
{"d":980,"p":54,"l8":35,"h8":75,"l9":27,"h9":90},{"d":981,"p":51,"l8":32,"h8":71,"l9":25,"h9":86},{"d":982,"p":38,"l8":24,"h8":53,"l9":18,"h9":64},{"d":983,"p":64,"l8":41,"h8":90,"l9":31,"h9":108},{"d":984,"p":55,"l8":35,"h8":77,"l9":27,"h9":92},{"d":985,"p":53,"l8":34,"h8":74,"l9":26,"h9":89},{"d":986,"p":52,"l8":33,"h8":73,"l9":25,"h9":87},
{"d":987,"p":54,"l8":34,"h8":75,"l9":26,"h9":90},{"d":988,"p":51,"l8":31,"h8":71,"l9":24,"h9":86},{"d":989,"p":38,"l8":24,"h8":53,"l9":18,"h9":64},{"d":990,"p":64,"l8":41,"h8":90,"l9":31,"h9":108},{"d":991,"p":55,"l8":34,"h8":77,"l9":26,"h9":92},{"d":992,"p":53,"l8":33,"h8":74,"l9":25,"h9":89},{"d":993,"p":52,"l8":32,"h8":73,"l9":24,"h9":87},
{"d":994,"p":54,"l8":34,"h8":75,"l9":26,"h9":90},{"d":995,"p":51,"l8":31,"h8":71,"l9":24,"h9":86},{"d":996,"p":38,"l8":24,"h8":53,"l9":18,"h9":64},{"d":997,"p":64,"l8":41,"h8":90,"l9":31,"h9":109},{"d":998,"p":55,"l8":34,"h8":77,"l9":26,"h9":92},{"d":999,"p":53,"l8":33,"h8":74,"l9":25,"h9":89},{"d":1000,"p":52,"l8":32,"h8":73,"l9":24,"h9":87},
{"d":1001,"p":54,"l8":34,"h8":75,"l9":26,"h9":91},{"d":1002,"p":51,"l8":31,"h8":71,"l9":24,"h9":87},{"d":1003,"p":38,"l8":24,"h8":53,"l9":18,"h9":64},{"d":1004,"p":64,"l8":40,"h8":90,"l9":30,"h9":109},{"d":1005,"p":55,"l8":34,"h8":77,"l9":26,"h9":93},{"d":1006,"p":53,"l8":33,"h8":74,"l9":25,"h9":90},{"d":1007,"p":52,"l8":32,"h8":73,"l9":24,"h9":88},
{"d":1008,"p":54,"l8":34,"h8":75,"l9":26,"h9":91},{"d":1009,"p":51,"l8":31,"h8":71,"l9":24,"h9":87},{"d":1010,"p":38,"l8":24,"h8":53,"l9":18,"h9":65},{"d":1011,"p":64,"l8":40,"h8":90,"l9":30,"h9":110},{"d":1012,"p":55,"l8":34,"h8":77,"l9":26,"h9":93},{"d":1013,"p":53,"l8":33,"h8":74,"l9":25,"h9":90},{"d":1014,"p":52,"l8":32,"h8":73,"l9":24,"h9":88},
{"d":1015,"p":54,"l8":34,"h8":75,"l9":26,"h9":91},{"d":1016,"p":51,"l8":31,"h8":71,"l9":24,"h9":87},{"d":1017,"p":38,"l8":23,"h8":53,"l9":18,"h9":65},{"d":1018,"p":64,"l8":40,"h8":90,"l9":30,"h9":110},{"d":1019,"p":55,"l8":34,"h8":77,"l9":26,"h9":93},{"d":1020,"p":53,"l8":33,"h8":74,"l9":25,"h9":90},{"d":1021,"p":52,"l8":32,"h8":73,"l9":24,"h9":88},
{"d":1022,"p":54,"l8":34,"h8":76,"l9":25,"h9":92},{"d":1023,"p":51,"l8":31,"h8":72,"l9":23,"h9":88},{"d":1024,"p":38,"l8":23,"h8":53,"l9":17,"h9":65},{"d":1025,"p":64,"l8":40,"h8":91,"l9":30,"h9":110},{"d":1026,"p":55,"l8":34,"h8":78,"l9":25,"h9":94},{"d":1027,"p":53,"l8":33,"h8":75,"l9":24,"h9":91},{"d":1028,"p":52,"l8":32,"h8":74,"l9":23,"h9":89},
{"d":1029,"p":54,"l8":33,"h8":76,"l9":25,"h9":92},{"d":1030,"p":51,"l8":30,"h8":72,"l9":23,"h9":88},{"d":1031,"p":38,"l8":23,"h8":54,"l9":17,"h9":65},{"d":1032,"p":64,"l8":40,"h8":91,"l9":29,"h9":111},{"d":1033,"p":55,"l8":33,"h8":78,"l9":25,"h9":94},{"d":1034,"p":53,"l8":32,"h8":75,"l9":24,"h9":91},{"d":1035,"p":52,"l8":31,"h8":74,"l9":23,"h9":89},
{"d":1036,"p":54,"l8":33,"h8":76,"l9":25,"h9":92},{"d":1037,"p":51,"l8":30,"h8":72,"l9":23,"h9":88},{"d":1038,"p":38,"l8":23,"h8":54,"l9":17,"h9":65},{"d":1039,"p":64,"l8":39,"h8":91,"l9":29,"h9":111},{"d":1040,"p":55,"l8":33,"h8":78,"l9":25,"h9":94},{"d":1041,"p":53,"l8":32,"h8":75,"l9":24,"h9":91},{"d":1042,"p":52,"l8":31,"h8":74,"l9":23,"h9":89},
{"d":1043,"p":54,"l8":33,"h8":76,"l9":25,"h9":93},{"d":1044,"p":51,"l8":30,"h8":72,"l9":23,"h9":89},{"d":1045,"p":38,"l8":23,"h8":54,"l9":17,"h9":66},{"d":1046,"p":64,"l8":39,"h8":91,"l9":29,"h9":111},{"d":1047,"p":55,"l8":33,"h8":78,"l9":25,"h9":95},{"d":1048,"p":53,"l8":32,"h8":75,"l9":24,"h9":92},{"d":1049,"p":52,"l8":31,"h8":74,"l9":23,"h9":90},
{"d":1050,"p":54,"l8":33,"h8":76,"l9":25,"h9":93},{"d":1051,"p":51,"l8":30,"h8":72,"l9":23,"h9":89},{"d":1052,"p":38,"l8":23,"h8":54,"l9":17,"h9":66},{"d":1053,"p":64,"l8":39,"h8":91,"l9":29,"h9":112},{"d":1054,"p":55,"l8":33,"h8":78,"l9":25,"h9":95},{"d":1055,"p":53,"l8":32,"h8":75,"l9":24,"h9":92},{"d":1056,"p":52,"l8":31,"h8":74,"l9":23,"h9":90},
{"d":1057,"p":54,"l8":33,"h8":76,"l9":24,"h9":93},{"d":1058,"p":51,"l8":30,"h8":72,"l9":22,"h9":89},{"d":1059,"p":38,"l8":23,"h8":54,"l9":17,"h9":66},{"d":1060,"p":64,"l8":39,"h8":92,"l9":28,"h9":112},{"d":1061,"p":55,"l8":33,"h8":78,"l9":24,"h9":95},{"d":1062,"p":53,"l8":32,"h8":75,"l9":23,"h9":92},{"d":1063,"p":52,"l8":31,"h8":74,"l9":22,"h9":90}
]
},
"layer":[
{"data":{"name":"fc"},"mark":{"type":"area","color":"#DCDCE4","opacity":1},
 "encoding":{
  "x":{"field":"d","type":"quantitative","scale":{"domain":[-43.05,1103.2],"nice":false,"zero":false},
   "axis":{"values":[0,350,700,1050],"labelExpr":"''+datum.value/7","title":"Semana","grid":false,"domain":false,"ticks":true,"tickColor":"black","tickWidth":1,"tickSize":9,"labelPadding":14,"labelFont":"Liberation Sans","labelFontSize":16,"labelColor":"black","labelBaseline":"top","labelFlush":false,"labelOverlap":false,"titleFont":"Liberation Sans","titleFontSize":16,"titleFontWeight":"normal","titleColor":"black","titleBaseline":"alphabetic","titleY":76}},
  "y":{"field":"l9","type":"quantitative","scale":{"domain":[7.95,116.5],"nice":false,"zero":false},
   "axis":{"values":[20,40,60,80,100],"title":"Número de pacientes/dia","grid":false,"domain":false,"tickColor":"black","tickWidth":1,"tickSize":9,"labelPadding":11,"labelAngle":-90,"labelAlign":"center","labelBaseline":"alphabetic","labelFont":"Liberation Sans","labelFontSize":16,"labelColor":"black","labelFlush":false,"labelOverlap":false,"titleFont":"Liberation Sans","titleFontSize":16,"titleFontWeight":"normal","titleColor":"black","titleAngle":-90,"titleAlign":"center","titleBaseline":"alphabetic","titleX":-62,"titleY":159}},
  "y2":{"field":"h9"}}},
{"data":{"name":"fc"},"mark":{"type":"area","color":"#B3B7CF","opacity":1},
 "encoding":{"x":{"field":"d","type":"quantitative"},"y":{"field":"l8","type":"quantitative"},"y2":{"field":"h8"}}},
{"data":{"name":"fc"},"mark":{"type":"line","color":"#0000FF","strokeWidth":2.5},
 "encoding":{"x":{"field":"d","type":"quantitative"},"y":{"field":"p","type":"quantitative"}}},
{"data":{"name":"obs"},"mark":{"type":"line","color":"black","strokeWidth":1},
 "encoding":{"x":{"field":"d","type":"quantitative"},"y":{"field":"y","type":"quantitative"}}},
{"data":{"name":"obs"},"mark":{"type":"line","color":"#FF0000","strokeWidth":1},
 "encoding":{"x":{"field":"d","type":"quantitative"},"y":{"field":"f","type":"quantitative"}}},
{"data":{"values":[{}]},"mark":{"type":"rule","clip":false,"color":"black","strokeWidth":1.5},
 "encoding":{"x":{"datum":-144.2,"type":"quantitative"},"y":{"datum":144.5,"type":"quantitative"},"y2":{"datum":-40}}},
{"data":{"values":[{}]},"mark":{"type":"rule","clip":false,"color":"black","strokeWidth":1.5},
 "encoding":{"x":{"datum":-144.2,"type":"quantitative"},"x2":{"datum":1250},"y":{"datum":144.5,"type":"quantitative"}}}
]
}
